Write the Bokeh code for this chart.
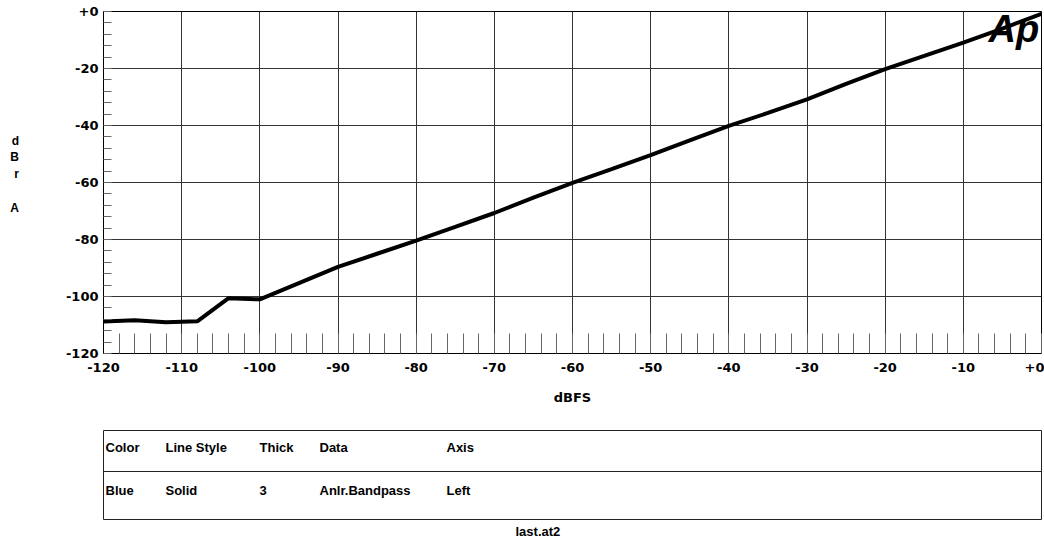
from bokeh.plotting import figure
from bokeh.models import FixedTicker, Range1d, Title, ColumnDataSource
from bokeh.layouts import column
from bokeh.core.properties import value
from bokeh.embed import file_html
from bokeh.resources import INLINE

# ---- data ----
x_dbfs = [-120, -116, -112, -108, -104, -100, -95, -90, -85, -80, -75, -70, -65, -60,
          -55, -50, -45, -40, -35, -30, -25, -20, -15, -10, -5, 0]
y_dbr = [-108.8, -108.3, -109.0, -108.7, -100.6, -101.0, -95.3, -89.6, -85.0, -80.4,
         -75.6, -70.7, -65.3, -60.1, -55.3, -50.4, -45.2, -40.1, -35.6, -30.8, -25.4,
         -20.2, -15.6, -10.9, -6.0, -0.8]

x_ticks = list(range(-120, 1, 10))
x_minor = list(range(-120, 1, 2))
y_ticks = list(range(-120, 1, 20))
y_minor = list(range(-120, 1, 4))

ylabel_letters = ["d", "B", "r", "", "A"]

table_headers = ["Color", "Line Style", "Thick", "Data", "Axis"]
table_row = ["Blue", "Solid", "3", "Anlr.Bandpass", "Left"]
file_name = "last.at2"

FONT = "Liberation Sans"
TFONT = "DejaVu Sans"

W = 1044
H1 = 410
p = figure(width=W, height=H1, x_range=Range1d(-120, 0), y_range=Range1d(-120, 0),
           output_backend="svg", toolbar_location=None,
           min_border_left=103, min_border_right=3, min_border_top=11, min_border_bottom=57)
p.outline_line_color = "black"
p.outline_line_width = 1
p.background_fill_color = "white"
p.border_fill_color = "white"

xt = FixedTicker(ticks=x_ticks, minor_ticks=x_minor)
yt = FixedTicker(ticks=y_ticks, minor_ticks=y_minor)
p.xaxis.ticker = xt
p.yaxis.ticker = yt
p.xgrid.ticker = xt
p.ygrid.ticker = yt
for g in (p.xgrid, p.ygrid):
    g.grid_line_color = "#333333"
    g.grid_line_width = 1
    g.grid_line_alpha = 1.0

p.xaxis.major_label_overrides = {v: ("+0" if v == 0 else str(v)) for v in x_ticks}
p.yaxis.major_label_overrides = {v: ("+0" if v == 0 else str(v)) for v in y_ticks}
for ax in (p.xaxis, p.yaxis):
    ax.major_label_text_font = TFONT
    ax.major_label_text_font_style = "bold"
    ax.major_label_text_font_size = "13px"
    ax.major_label_text_color = "black"
    ax.axis_line_color = "black"
    ax.major_tick_in = 0
    ax.major_tick_out = 0
    ax.minor_tick_out = 0
    ax.minor_tick_line_color = "#666666"
    ax.minor_tick_line_width = 1
    ax.axis_label_text_color = "black"
p.xaxis.minor_tick_in = 20
p.yaxis.minor_tick_in = 8
p.xaxis.major_label_standoff = 9
p.yaxis.major_label_standoff = 5

p.xaxis.axis_label = "dBFS"
p.xaxis.axis_label_text_font = TFONT
p.xaxis.axis_label_text_font_style = "bold"
p.xaxis.axis_label_text_font_size = "13px"
p.xaxis.axis_label_standoff = 15

# stacked letters; a trailing blank line lifts the block slightly above the frame centre
p.yaxis.axis_label = "\n".join(ylabel_letters + [""])
p.yaxis.axis_label_orientation = "horizontal"
p.yaxis.axis_label_text_font = FONT
p.yaxis.axis_label_text_font_style = "bold"
p.yaxis.axis_label_text_font_size = "12px"
p.yaxis.axis_label_text_line_height = 1.2
p.yaxis.axis_label_text_align = "center"
p.yaxis.axis_label_standoff = 44

# Ap logo (drawn before the trace so the trace crosses it)
p.text(x=[-0.3], y=[1.2], text=["Ap"], text_font=value(FONT), text_font_style="bold italic",
       text_font_size="38px", text_align="right", text_baseline="top", text_color="black")

src = ColumnDataSource(dict(x=x_dbfs, y=y_dbr))
p.line("x", "y", source=src, line_color="black", line_width=4)

# ---- table ----
H2 = 546 - H1
t = figure(width=W, height=H2, x_range=Range1d(103, 1041), y_range=Range1d(519, 430),
           output_backend="svg", toolbar_location=None,
           min_border_left=103, min_border_right=3, min_border_top=20, min_border_bottom=H2 - 20 - 89)
t.axis.visible = False
t.grid.visible = False
t.outline_line_color = "#222222"
t.outline_line_width = 1
t.border_fill_color = "white"

t.segment(x0=[103], y0=[471], x1=[1041], y1=[471], line_color="#222222", line_width=1)

col_x = [105, 165, 259, 319, 446]
t.text(x=col_x, y=[447] * 5, text=table_headers, text_font=value(FONT), text_font_size="13px",
       text_font_style="bold", text_baseline="middle", text_align="left", text_color="black")
t.text(x=col_x, y=[490] * 5, text=table_row, text_font=value(FONT), text_font_size="13px",
       text_font_style="bold", text_baseline="middle", text_align="left", text_color="black")
t.add_layout(Title(text=file_name, align="left", offset=537 - 103 - 22, standoff=4,
                   text_font=FONT, text_font_size="13px", text_font_style="bold",
                   text_color="black"), "below")

layout = column(p, t, spacing=0)
open("out.html", "w").write(file_html(layout, INLINE))
